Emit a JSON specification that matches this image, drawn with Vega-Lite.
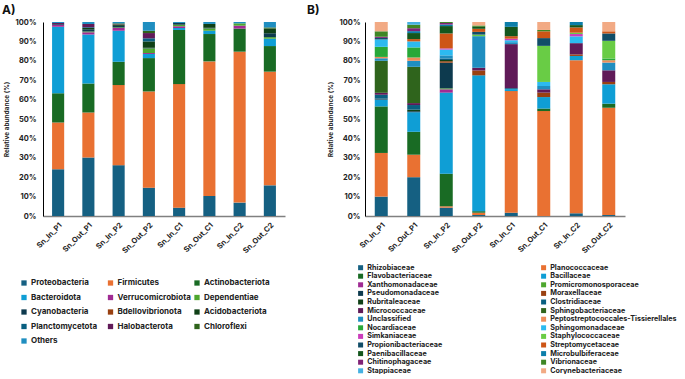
{
  "$schema": "https://vega.github.io/schema/vega-lite/v6.json",
  "background": "white",
  "padding": {"left": 2, "top": 4, "right": 0, "bottom": 0},
  "bounds": "flush",
  "spacing": 80,
  "config": {
    "font": "Inter",
    "view": {"stroke": null},
    "bar": {"strokeWidth": 0},
    "axis": {"labelFontWeight": "bold", "titleFontWeight": "bold", "labelColor": "#222222", "titleColor": "#222222"},
    "legend": {"labelFontWeight": "bold", "labelColor": "#222222", "symbolType": "square", "symbolStrokeWidth": 0, "labelLimit": 400, "gridAlign": "all", "direction": "horizontal"},
    "title": {"fontWeight": "bold", "color": "#111111"}
  },
  "datasets": {
    "phylumOrder": [
      {"taxon": "Proteobacteria", "rank": 1}, {"taxon": "Firmicutes", "rank": 2}, {"taxon": "Actinobacteriota", "rank": 3},
      {"taxon": "Bacteroidota", "rank": 4}, {"taxon": "Verrucomicrobiota", "rank": 5}, {"taxon": "Dependentiae", "rank": 6},
      {"taxon": "Cyanobacteria", "rank": 7}, {"taxon": "Bdellovibrionota", "rank": 8}, {"taxon": "Acidobacteriota", "rank": 9},
      {"taxon": "Planctomycetota", "rank": 10}, {"taxon": "Halobacterota", "rank": 11}, {"taxon": "Chloroflexi", "rank": 12},
      {"taxon": "Others", "rank": 13}
    ],
    "familyOrder": [
      {"taxon": "Rhizobiaceae", "rank": 1}, {"taxon": "Planococcaceae", "rank": 2}, {"taxon": "Flavobacteriaceae", "rank": 3},
      {"taxon": "Bacillaceae", "rank": 4}, {"taxon": "Xanthomonadaceae", "rank": 5}, {"taxon": "Promicromonosporaceae", "rank": 6},
      {"taxon": "Pseudomonadaceae", "rank": 7}, {"taxon": "Moraxellaceae", "rank": 8}, {"taxon": "Rubritaleaceae", "rank": 9},
      {"taxon": "Clostridiaceae", "rank": 10}, {"taxon": "Micrococcaceae", "rank": 11}, {"taxon": "Sphingobacteriaceae", "rank": 12},
      {"taxon": "Unclassified", "rank": 13}, {"taxon": "Peptostreptococcales-Tissierellales", "rank": 14}, {"taxon": "Nocardiaceae", "rank": 15},
      {"taxon": "Sphingomonadaceae", "rank": 16}, {"taxon": "Simkaniaceae", "rank": 17}, {"taxon": "Staphylococcaceae", "rank": 18},
      {"taxon": "Propionibacteriaceae", "rank": 19}, {"taxon": "Streptomycetaceae", "rank": 20}, {"taxon": "Paenibacillaceae", "rank": 21},
      {"taxon": "Microbulbiferaceae", "rank": 22}, {"taxon": "Chitinophagaceae", "rank": 23}, {"taxon": "Vibrionaceae", "rank": 24},
      {"taxon": "Stappiaceae", "rank": 25}, {"taxon": "Corynebacteriaceae", "rank": 26}
    ],
    "phyla": [
      {"sample": "Sn_In_P1", "taxon": "Proteobacteria", "pct": 24.1},
      {"sample": "Sn_In_P1", "taxon": "Firmicutes", "pct": 24.1},
      {"sample": "Sn_In_P1", "taxon": "Actinobacteriota", "pct": 15.1},
      {"sample": "Sn_In_P1", "taxon": "Bacteroidota", "pct": 34.3},
      {"sample": "Sn_In_P1", "taxon": "Verrucomicrobiota", "pct": 1.0},
      {"sample": "Sn_In_P1", "taxon": "Cyanobacteria", "pct": 0.4},
      {"sample": "Sn_In_P1", "taxon": "Halobacterota", "pct": 0.5},
      {"sample": "Sn_In_P1", "taxon": "Others", "pct": 0.5},
      {"sample": "Sn_Out_P1", "taxon": "Proteobacteria", "pct": 30.1},
      {"sample": "Sn_Out_P1", "taxon": "Firmicutes", "pct": 23.3},
      {"sample": "Sn_Out_P1", "taxon": "Actinobacteriota", "pct": 14.9},
      {"sample": "Sn_Out_P1", "taxon": "Bacteroidota", "pct": 25.2},
      {"sample": "Sn_Out_P1", "taxon": "Verrucomicrobiota", "pct": 1.2},
      {"sample": "Sn_Out_P1", "taxon": "Dependentiae", "pct": 0.4},
      {"sample": "Sn_Out_P1", "taxon": "Cyanobacteria", "pct": 1.2},
      {"sample": "Sn_Out_P1", "taxon": "Acidobacteriota", "pct": 0.6},
      {"sample": "Sn_Out_P1", "taxon": "Planctomycetota", "pct": 0.4},
      {"sample": "Sn_Out_P1", "taxon": "Halobacterota", "pct": 1.7},
      {"sample": "Sn_Out_P1", "taxon": "Others", "pct": 1.0},
      {"sample": "Sn_In_P2", "taxon": "Proteobacteria", "pct": 26.2},
      {"sample": "Sn_In_P2", "taxon": "Firmicutes", "pct": 41.3},
      {"sample": "Sn_In_P2", "taxon": "Actinobacteriota", "pct": 12.0},
      {"sample": "Sn_In_P2", "taxon": "Bacteroidota", "pct": 16.0},
      {"sample": "Sn_In_P2", "taxon": "Verrucomicrobiota", "pct": 1.4},
      {"sample": "Sn_In_P2", "taxon": "Dependentiae", "pct": 0.3},
      {"sample": "Sn_In_P2", "taxon": "Cyanobacteria", "pct": 0.8},
      {"sample": "Sn_In_P2", "taxon": "Acidobacteriota", "pct": 0.5},
      {"sample": "Sn_In_P2", "taxon": "Halobacterota", "pct": 0.3},
      {"sample": "Sn_In_P2", "taxon": "Chloroflexi", "pct": 0.5},
      {"sample": "Sn_In_P2", "taxon": "Others", "pct": 0.7},
      {"sample": "Sn_Out_P2", "taxon": "Proteobacteria", "pct": 14.6},
      {"sample": "Sn_Out_P2", "taxon": "Firmicutes", "pct": 49.6},
      {"sample": "Sn_Out_P2", "taxon": "Actinobacteriota", "pct": 17.2},
      {"sample": "Sn_Out_P2", "taxon": "Bacteroidota", "pct": 2.1},
      {"sample": "Sn_Out_P2", "taxon": "Verrucomicrobiota", "pct": 0.5},
      {"sample": "Sn_Out_P2", "taxon": "Dependentiae", "pct": 2.4},
      {"sample": "Sn_Out_P2", "taxon": "Cyanobacteria", "pct": 0.3},
      {"sample": "Sn_Out_P2", "taxon": "Acidobacteriota", "pct": 3.3},
      {"sample": "Sn_Out_P2", "taxon": "Planctomycetota", "pct": 1.6},
      {"sample": "Sn_Out_P2", "taxon": "Halobacterota", "pct": 2.7},
      {"sample": "Sn_Out_P2", "taxon": "Chloroflexi", "pct": 1.2},
      {"sample": "Sn_Out_P2", "taxon": "Others", "pct": 4.5},
      {"sample": "Sn_In_C1", "taxon": "Proteobacteria", "pct": 4.3},
      {"sample": "Sn_In_C1", "taxon": "Firmicutes", "pct": 63.7},
      {"sample": "Sn_In_C1", "taxon": "Actinobacteriota", "pct": 27.9},
      {"sample": "Sn_In_C1", "taxon": "Bacteroidota", "pct": 1.0},
      {"sample": "Sn_In_C1", "taxon": "Verrucomicrobiota", "pct": 0.9},
      {"sample": "Sn_In_C1", "taxon": "Dependentiae", "pct": 0.8},
      {"sample": "Sn_In_C1", "taxon": "Cyanobacteria", "pct": 0.9},
      {"sample": "Sn_In_C1", "taxon": "Others", "pct": 0.5},
      {"sample": "Sn_Out_C1", "taxon": "Proteobacteria", "pct": 10.3},
      {"sample": "Sn_Out_C1", "taxon": "Firmicutes", "pct": 69.4},
      {"sample": "Sn_Out_C1", "taxon": "Actinobacteriota", "pct": 14.1},
      {"sample": "Sn_Out_C1", "taxon": "Bacteroidota", "pct": 1.7},
      {"sample": "Sn_Out_C1", "taxon": "Dependentiae", "pct": 1.2},
      {"sample": "Sn_Out_C1", "taxon": "Cyanobacteria", "pct": 0.3},
      {"sample": "Sn_Out_C1", "taxon": "Acidobacteriota", "pct": 2.0},
      {"sample": "Sn_Out_C1", "taxon": "Others", "pct": 1.0},
      {"sample": "Sn_In_C2", "taxon": "Proteobacteria", "pct": 6.9},
      {"sample": "Sn_In_C2", "taxon": "Firmicutes", "pct": 77.8},
      {"sample": "Sn_In_C2", "taxon": "Actinobacteriota", "pct": 11.9},
      {"sample": "Sn_In_C2", "taxon": "Verrucomicrobiota", "pct": 1.5},
      {"sample": "Sn_In_C2", "taxon": "Dependentiae", "pct": 1.2},
      {"sample": "Sn_In_C2", "taxon": "Others", "pct": 0.7},
      {"sample": "Sn_Out_C2", "taxon": "Proteobacteria", "pct": 15.8},
      {"sample": "Sn_Out_C2", "taxon": "Firmicutes", "pct": 58.6},
      {"sample": "Sn_Out_C2", "taxon": "Actinobacteriota", "pct": 13.2},
      {"sample": "Sn_Out_C2", "taxon": "Bacteroidota", "pct": 3.8},
      {"sample": "Sn_Out_C2", "taxon": "Dependentiae", "pct": 0.8},
      {"sample": "Sn_Out_C2", "taxon": "Cyanobacteria", "pct": 2.0},
      {"sample": "Sn_Out_C2", "taxon": "Acidobacteriota", "pct": 2.4},
      {"sample": "Sn_Out_C2", "taxon": "Chloroflexi", "pct": 0.6},
      {"sample": "Sn_Out_C2", "taxon": "Others", "pct": 2.8}
    ],
    "families": [
      {"sample": "Sn_In_P1", "taxon": "Rhizobiaceae", "pct": 10.0},
      {"sample": "Sn_In_P1", "taxon": "Planococcaceae", "pct": 22.5},
      {"sample": "Sn_In_P1", "taxon": "Flavobacteriaceae", "pct": 24.0},
      {"sample": "Sn_In_P1", "taxon": "Bacillaceae", "pct": 3.5},
      {"sample": "Sn_In_P1", "taxon": "Pseudomonadaceae", "pct": 0.5},
      {"sample": "Sn_In_P1", "taxon": "Clostridiaceae", "pct": 2.0},
      {"sample": "Sn_In_P1", "taxon": "Micrococcaceae", "pct": 1.0},
      {"sample": "Sn_In_P1", "taxon": "Sphingobacteriaceae", "pct": 16.5},
      {"sample": "Sn_In_P1", "taxon": "Unclassified", "pct": 1.3},
      {"sample": "Sn_In_P1", "taxon": "Peptostreptococcales-Tissierellales", "pct": 0.7},
      {"sample": "Sn_In_P1", "taxon": "Nocardiaceae", "pct": 5.2},
      {"sample": "Sn_In_P1", "taxon": "Sphingomonadaceae", "pct": 3.8},
      {"sample": "Sn_In_P1", "taxon": "Propionibacteriaceae", "pct": 0.8},
      {"sample": "Sn_In_P1", "taxon": "Chitinophagaceae", "pct": 0.6},
      {"sample": "Sn_In_P1", "taxon": "Vibrionaceae", "pct": 2.8},
      {"sample": "Sn_In_P1", "taxon": "Corynebacteriaceae", "pct": 4.8},
      {"sample": "Sn_Out_P1", "taxon": "Rhizobiaceae", "pct": 20.0},
      {"sample": "Sn_Out_P1", "taxon": "Planococcaceae", "pct": 11.6},
      {"sample": "Sn_Out_P1", "taxon": "Flavobacteriaceae", "pct": 11.8},
      {"sample": "Sn_Out_P1", "taxon": "Bacillaceae", "pct": 10.1},
      {"sample": "Sn_Out_P1", "taxon": "Pseudomonadaceae", "pct": 0.5},
      {"sample": "Sn_Out_P1", "taxon": "Rubritaleaceae", "pct": 0.8},
      {"sample": "Sn_Out_P1", "taxon": "Clostridiaceae", "pct": 2.4},
      {"sample": "Sn_Out_P1", "taxon": "Micrococcaceae", "pct": 1.0},
      {"sample": "Sn_Out_P1", "taxon": "Sphingobacteriaceae", "pct": 18.7},
      {"sample": "Sn_Out_P1", "taxon": "Unclassified", "pct": 3.1},
      {"sample": "Sn_Out_P1", "taxon": "Peptostreptococcales-Tissierellales", "pct": 1.7},
      {"sample": "Sn_Out_P1", "taxon": "Nocardiaceae", "pct": 5.2},
      {"sample": "Sn_Out_P1", "taxon": "Sphingomonadaceae", "pct": 3.1},
      {"sample": "Sn_Out_P1", "taxon": "Streptomycetaceae", "pct": 1.2},
      {"sample": "Sn_Out_P1", "taxon": "Paenibacillaceae", "pct": 3.1},
      {"sample": "Sn_Out_P1", "taxon": "Microbulbiferaceae", "pct": 1.0},
      {"sample": "Sn_Out_P1", "taxon": "Chitinophagaceae", "pct": 1.5},
      {"sample": "Sn_Out_P1", "taxon": "Vibrionaceae", "pct": 1.8},
      {"sample": "Sn_Out_P1", "taxon": "Stappiaceae", "pct": 1.4},
      {"sample": "Sn_In_P2", "taxon": "Rhizobiaceae", "pct": 4.3},
      {"sample": "Sn_In_P2", "taxon": "Planococcaceae", "pct": 0.7},
      {"sample": "Sn_In_P2", "taxon": "Flavobacteriaceae", "pct": 16.8},
      {"sample": "Sn_In_P2", "taxon": "Bacillaceae", "pct": 41.8},
      {"sample": "Sn_In_P2", "taxon": "Xanthomonadaceae", "pct": 1.7},
      {"sample": "Sn_In_P2", "taxon": "Promicromonosporaceae", "pct": 0.5},
      {"sample": "Sn_In_P2", "taxon": "Pseudomonadaceae", "pct": 13.2},
      {"sample": "Sn_In_P2", "taxon": "Moraxellaceae", "pct": 0.8},
      {"sample": "Sn_In_P2", "taxon": "Rubritaleaceae", "pct": 0.6},
      {"sample": "Sn_In_P2", "taxon": "Clostridiaceae", "pct": 0.8},
      {"sample": "Sn_In_P2", "taxon": "Unclassified", "pct": 1.6},
      {"sample": "Sn_In_P2", "taxon": "Sphingomonadaceae", "pct": 3.0},
      {"sample": "Sn_In_P2", "taxon": "Simkaniaceae", "pct": 0.6},
      {"sample": "Sn_In_P2", "taxon": "Streptomycetaceae", "pct": 7.7},
      {"sample": "Sn_In_P2", "taxon": "Paenibacillaceae", "pct": 3.8},
      {"sample": "Sn_In_P2", "taxon": "Microbulbiferaceae", "pct": 0.8},
      {"sample": "Sn_In_P2", "taxon": "Chitinophagaceae", "pct": 0.8},
      {"sample": "Sn_In_P2", "taxon": "Vibrionaceae", "pct": 0.5},
      {"sample": "Sn_Out_P2", "taxon": "Rhizobiaceae", "pct": 0.5},
      {"sample": "Sn_Out_P2", "taxon": "Planococcaceae", "pct": 1.2},
      {"sample": "Sn_Out_P2", "taxon": "Flavobacteriaceae", "pct": 0.8},
      {"sample": "Sn_Out_P2", "taxon": "Bacillaceae", "pct": 70.0},
      {"sample": "Sn_Out_P2", "taxon": "Moraxellaceae", "pct": 2.5},
      {"sample": "Sn_Out_P2", "taxon": "Micrococcaceae", "pct": 1.4},
      {"sample": "Sn_Out_P2", "taxon": "Unclassified", "pct": 16.3},
      {"sample": "Sn_Out_P2", "taxon": "Staphylococcaceae", "pct": 0.8},
      {"sample": "Sn_Out_P2", "taxon": "Propionibacteriaceae", "pct": 1.4},
      {"sample": "Sn_Out_P2", "taxon": "Streptomycetaceae", "pct": 1.6},
      {"sample": "Sn_Out_P2", "taxon": "Paenibacillaceae", "pct": 1.0},
      {"sample": "Sn_Out_P2", "taxon": "Vibrionaceae", "pct": 0.7},
      {"sample": "Sn_Out_P2", "taxon": "Corynebacteriaceae", "pct": 1.8},
      {"sample": "Sn_In_C1", "taxon": "Rhizobiaceae", "pct": 1.7},
      {"sample": "Sn_In_C1", "taxon": "Planococcaceae", "pct": 62.7},
      {"sample": "Sn_In_C1", "taxon": "Bacillaceae", "pct": 1.0},
      {"sample": "Sn_In_C1", "taxon": "Clostridiaceae", "pct": 0.5},
      {"sample": "Sn_In_C1", "taxon": "Micrococcaceae", "pct": 22.7},
      {"sample": "Sn_In_C1", "taxon": "Unclassified", "pct": 1.0},
      {"sample": "Sn_In_C1", "taxon": "Sphingomonadaceae", "pct": 1.0},
      {"sample": "Sn_In_C1", "taxon": "Simkaniaceae", "pct": 0.8},
      {"sample": "Sn_In_C1", "taxon": "Streptomycetaceae", "pct": 1.3},
      {"sample": "Sn_In_C1", "taxon": "Paenibacillaceae", "pct": 4.8},
      {"sample": "Sn_In_C1", "taxon": "Microbulbiferaceae", "pct": 2.5},
      {"sample": "Sn_Out_C1", "taxon": "Planococcaceae", "pct": 54.1},
      {"sample": "Sn_Out_C1", "taxon": "Flavobacteriaceae", "pct": 1.3},
      {"sample": "Sn_Out_C1", "taxon": "Bacillaceae", "pct": 5.9},
      {"sample": "Sn_Out_C1", "taxon": "Moraxellaceae", "pct": 2.3},
      {"sample": "Sn_Out_C1", "taxon": "Micrococcaceae", "pct": 1.7},
      {"sample": "Sn_Out_C1", "taxon": "Unclassified", "pct": 1.7},
      {"sample": "Sn_Out_C1", "taxon": "Sphingomonadaceae", "pct": 2.1},
      {"sample": "Sn_Out_C1", "taxon": "Staphylococcaceae", "pct": 18.6},
      {"sample": "Sn_Out_C1", "taxon": "Propionibacteriaceae", "pct": 4.0},
      {"sample": "Sn_Out_C1", "taxon": "Streptomycetaceae", "pct": 3.5},
      {"sample": "Sn_Out_C1", "taxon": "Vibrionaceae", "pct": 0.7},
      {"sample": "Sn_Out_C1", "taxon": "Corynebacteriaceae", "pct": 4.1},
      {"sample": "Sn_In_C2", "taxon": "Rhizobiaceae", "pct": 1.4},
      {"sample": "Sn_In_C2", "taxon": "Planococcaceae", "pct": 78.9},
      {"sample": "Sn_In_C2", "taxon": "Bacillaceae", "pct": 2.2},
      {"sample": "Sn_In_C2", "taxon": "Moraxellaceae", "pct": 0.8},
      {"sample": "Sn_In_C2", "taxon": "Micrococcaceae", "pct": 5.8},
      {"sample": "Sn_In_C2", "taxon": "Sphingomonadaceae", "pct": 3.5},
      {"sample": "Sn_In_C2", "taxon": "Simkaniaceae", "pct": 1.2},
      {"sample": "Sn_In_C2", "taxon": "Staphylococcaceae", "pct": 0.7},
      {"sample": "Sn_In_C2", "taxon": "Streptomycetaceae", "pct": 2.7},
      {"sample": "Sn_In_C2", "taxon": "Paenibacillaceae", "pct": 1.2},
      {"sample": "Sn_In_C2", "taxon": "Microbulbiferaceae", "pct": 1.6},
      {"sample": "Sn_Out_C2", "taxon": "Rhizobiaceae", "pct": 0.5},
      {"sample": "Sn_Out_C2", "taxon": "Planococcaceae", "pct": 55.3},
      {"sample": "Sn_Out_C2", "taxon": "Flavobacteriaceae", "pct": 2.1},
      {"sample": "Sn_Out_C2", "taxon": "Bacillaceae", "pct": 10.0},
      {"sample": "Sn_Out_C2", "taxon": "Moraxellaceae", "pct": 1.2},
      {"sample": "Sn_Out_C2", "taxon": "Micrococcaceae", "pct": 6.0},
      {"sample": "Sn_Out_C2", "taxon": "Unclassified", "pct": 4.0},
      {"sample": "Sn_Out_C2", "taxon": "Peptostreptococcales-Tissierellales", "pct": 1.2},
      {"sample": "Sn_Out_C2", "taxon": "Nocardiaceae", "pct": 0.9},
      {"sample": "Sn_Out_C2", "taxon": "Staphylococcaceae", "pct": 9.1},
      {"sample": "Sn_Out_C2", "taxon": "Propionibacteriaceae", "pct": 3.8},
      {"sample": "Sn_Out_C2", "taxon": "Streptomycetaceae", "pct": 1.1},
      {"sample": "Sn_Out_C2", "taxon": "Corynebacteriaceae", "pct": 4.8}
    ]
  },
  "hconcat": [
    {
      "width": 242,
      "height": 194,
      "title": {"text": "A)", "anchor": "start", "frame": "group", "dx": -41, "fontSize": 12, "offset": 1},
      "data": {"name": "phyla"},
      "transform": [
        {"lookup": "taxon", "from": {"data": {"name": "phylumOrder"}, "key": "taxon", "fields": ["rank"]}}
      ],
      "mark": {"type": "bar"},
      "encoding": {
        "x": {
          "field": "sample", "type": "nominal",
          "sort": ["Sn_In_P1", "Sn_Out_P1", "Sn_In_P2", "Sn_Out_P2", "Sn_In_C1", "Sn_Out_C1", "Sn_In_C2", "Sn_Out_C2"],
          "scale": {"paddingInner": 0.6, "paddingOuter": 0.3},
          "axis": {"title": null, "labelAngle": -45, "labelFontSize": 7.5, "ticks": false, "labelPadding": 5, "domainColor": "#808080", "domainWidth": 1.5}
        },
        "y": {
          "field": "pct", "type": "quantitative", "stack": "zero",
          "scale": {"domain": [0, 100], "nice": false},
          "axis": {"title": "Relative abundance (%)", "titleFontSize": 6.5, "titlePadding": 6, "values": [0, 10, 20, 30, 40, 50, 60, 70, 80, 90, 100], "labelExpr": "datum.value + '%'", "labelFontSize": 7.5, "labelPadding": 7, "grid": false, "ticks": false, "domainColor": "#000000"}
        },
        "order": {"field": "rank", "type": "quantitative", "sort": "ascending"},
        "color": {
          "field": "taxon", "type": "nominal",
          "scale": {
            "domain": ["Proteobacteria", "Firmicutes", "Actinobacteriota", "Bacteroidota", "Verrucomicrobiota", "Dependentiae", "Cyanobacteria", "Bdellovibrionota", "Acidobacteriota", "Planctomycetota", "Halobacterota", "Chloroflexi", "Others"],
            "range": ["#156082", "#E97132", "#196B24", "#0F9ED5", "#A02B93", "#4EA72E", "#0D3A4E", "#994011", "#0F4016", "#095F80", "#601A58", "#2F641C", "#1F8EC0"]
          },
          "legend": {"title": null, "orient": "none", "legendX": -23, "legendY": 257, "columns": 3, "symbolSize": 28, "labelFontSize": 8, "labelOffset": 3, "rowPadding": 6.5, "columnPadding": 1.5}
        }
      }
    },
    {
      "width": 260,
      "height": 194,
      "title": {"text": "B)", "anchor": "start", "frame": "group", "dx": -58, "fontSize": 12, "offset": 1},
      "data": {"name": "families"},
      "transform": [
        {"lookup": "taxon", "from": {"data": {"name": "familyOrder"}, "key": "taxon", "fields": ["rank"]}}
      ],
      "mark": {"type": "bar"},
      "encoding": {
        "x": {
          "field": "sample", "type": "nominal",
          "sort": ["Sn_In_P1", "Sn_Out_P1", "Sn_In_P2", "Sn_Out_P2", "Sn_In_C1", "Sn_Out_C1", "Sn_In_C2", "Sn_Out_C2"],
          "scale": {"paddingInner": 0.6, "paddingOuter": 0.3},
          "axis": {"title": null, "labelAngle": -45, "labelFontSize": 7.5, "ticks": false, "labelPadding": 5, "domainColor": "#808080", "domainWidth": 1.5}
        },
        "y": {
          "field": "pct", "type": "quantitative", "stack": "zero",
          "scale": {"domain": [0, 100], "nice": false},
          "axis": {"title": "Relative abundance (%)", "titleFontSize": 6.5, "titlePadding": 6, "values": [0, 10, 20, 30, 40, 50, 60, 70, 80, 90, 100], "labelExpr": "datum.value + '%'", "labelFontSize": 7.5, "labelPadding": 5, "grid": false, "ticks": false, "domainColor": "#000000"}
        },
        "order": {"field": "rank", "type": "quantitative", "sort": "ascending"},
        "color": {
          "field": "taxon", "type": "nominal",
          "scale": {
            "domain": ["Rhizobiaceae", "Planococcaceae", "Flavobacteriaceae", "Bacillaceae", "Xanthomonadaceae", "Promicromonosporaceae", "Pseudomonadaceae", "Moraxellaceae", "Rubritaleaceae", "Clostridiaceae", "Micrococcaceae", "Sphingobacteriaceae", "Unclassified", "Peptostreptococcales-Tissierellales", "Nocardiaceae", "Sphingomonadaceae", "Simkaniaceae", "Staphylococcaceae", "Propionibacteriaceae", "Streptomycetaceae", "Paenibacillaceae", "Microbulbiferaceae", "Chitinophagaceae", "Vibrionaceae", "Stappiaceae", "Corynebacteriaceae"],
            "range": ["#156082", "#E97132", "#196B24", "#0F9ED5", "#A02B93", "#4EA72E", "#0D3A4E", "#994011", "#0F4016", "#095F80", "#601A58", "#2F641C", "#1F8EC0", "#ED8D5B", "#27A838", "#2CBAF0", "#CB3DBB", "#69CC45", "#114D68", "#CD5516", "#14561D", "#0C7EAA", "#802276", "#3F8625", "#46B1E1", "#F2AA84"]
          },
          "legend": {"title": null, "orient": "none", "legendX": -8, "legendY": 242, "columns": 2, "symbolSize": 25, "labelFontSize": 7.2, "labelOffset": 3, "rowPadding": 0.6, "columnPadding": 46}
        }
      }
    }
  ],
  "resolve": {"scale": {"color": "independent", "x": "independent", "y": "independent"}}
}
